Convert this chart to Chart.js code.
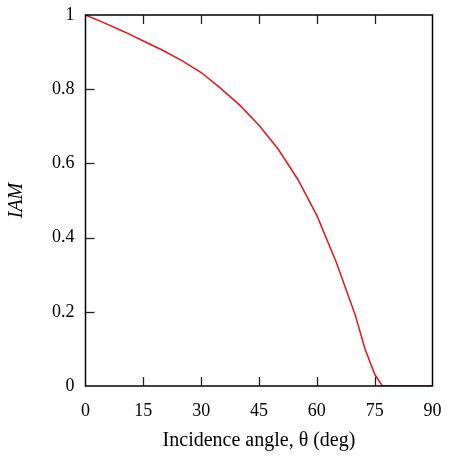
<!DOCTYPE html>
<html>
<head>
<meta charset="utf-8">
<script src="https://cdn.jsdelivr.net/npm/chart.js@4/dist/chart.umd.min.js"></script>
<style>
html,body{margin:0;padding:0;background:#fff;}
#wrap{width:452px;height:464px;}
</style>
</head>
<body>
<div id="wrap"><canvas id="c" width="452" height="464"></canvas></div>
<script>
const angles = [0, 5, 10, 15, 20, 25, 30, 35, 40, 45, 50, 55, 60, 65, 70, 72.5, 75, 77, 80, 85, 90];
const iam    = [1.0, 0.978, 0.955, 0.930, 0.905, 0.877, 0.845, 0.803, 0.757, 0.703, 0.638, 0.558, 0.460, 0.335, 0.190, 0.100, 0.032, 0.0, 0.0, 0.0, 0.0];
const xTicks = [0, 15, 30, 45, 60, 75, 90];
const yTicks = [0, 0.2, 0.4, 0.6, 0.8, 1];

const serif = "'Liberation Serif', 'DejaVu Serif', serif";

const frame = {
  id: 'frame',
  afterDatasetsDraw(chart) {
    const {ctx, chartArea: a, scales} = chart;
    ctx.save();
    ctx.strokeStyle = '#000';
    ctx.lineWidth = 1.5;
    ctx.strokeRect(a.left, a.top, a.right - a.left, a.bottom - a.top);
    ctx.lineWidth = 1.3;
    ctx.strokeStyle = '#222';
    const L = 9;
    xTicks.forEach(v => {
      if (v === 0 || v === 90) return;
      const x = Math.round(scales.x.getPixelForValue(v)) + 0.5;
      ctx.beginPath(); ctx.moveTo(x, a.bottom); ctx.lineTo(x, a.bottom - L); ctx.stroke();
      ctx.beginPath(); ctx.moveTo(x, a.top); ctx.lineTo(x, a.top + L); ctx.stroke();
    });
    yTicks.forEach(v => {
      if (v === 0 || v === 1) return;
      const y = Math.round(scales.y.getPixelForValue(v)) + 0.5;
      ctx.beginPath(); ctx.moveTo(a.left, y); ctx.lineTo(a.left + L, y); ctx.stroke();
    });
    ctx.restore();
  }
};

new Chart(document.getElementById('c'), {
  type: 'line',
  data: {
    datasets: [{
      data: angles.map((a, i) => ({x: a, y: iam[i]})),
      borderColor: '#e3171e',
      borderWidth: 1.5,
      pointRadius: 0,
      tension: 0,
      fill: false
    }]
  },
  options: {
    responsive: false,
    animation: false,
    devicePixelRatio: 1,
    layout: {padding: {top: 15, right: 19.5, left: 0, bottom: 0}},
    plugins: {legend: {display: false}, tooltip: {enabled: false}},
    scales: {
      x: {
        type: 'linear', min: 0, max: 90,
        afterFit: s => { s.height = 78; s.paddingLeft = 0; s.paddingRight = 0; },
        afterBuildTicks: s => { s.ticks = xTicks.map(v => ({value: v})); },
        grid: {display: false, drawTicks: false},
        border: {display: false},
        ticks: {color: '#000', padding: 14, font: {family: serif, size: 18}, maxRotation: 0},
        title: {display: true, text: 'Incidence angle, \u03B8 (deg)', color: '#000',
                font: {family: serif, size: 20}, padding: {top: 0, bottom: 11}}
      },
      y: {
        type: 'linear', min: 0, max: 1,
        afterFit: s => { s.width = 85.5; s.paddingTop = 0; s.paddingBottom = 0; },
        afterBuildTicks: s => { s.ticks = yTicks.map(v => ({value: v})); },
        grid: {display: false, drawTicks: false},
        border: {display: false},
        ticks: {color: '#000', padding: 11, font: {family: serif, size: 18},
                callback: v => String(v)},
        title: {display: true, text: 'IAM', color: '#000',
                font: {family: serif, size: 20, style: 'italic'}, padding: {top: 5, bottom: 0}}
      }
    }
  },
  plugins: [frame]
});
</script>
</body>
</html>
